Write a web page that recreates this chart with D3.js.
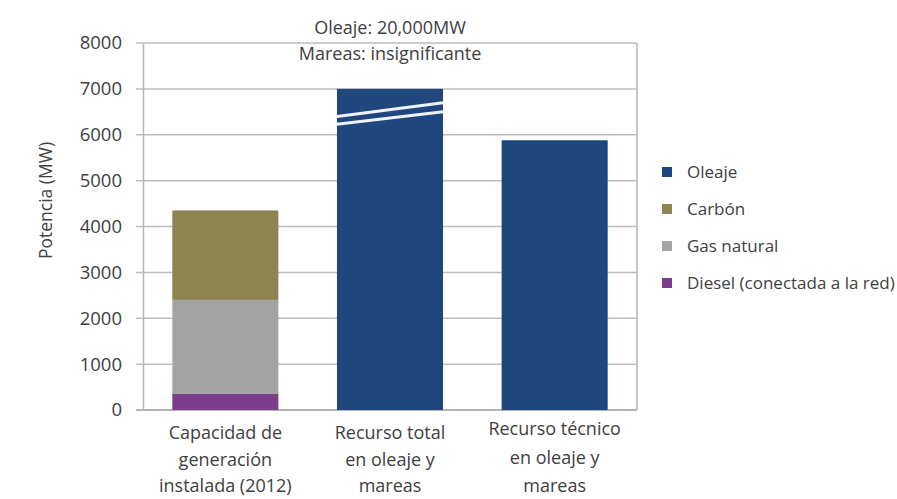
<!DOCTYPE html>
<html>
<head>
<meta charset="utf-8">
<script src="https://cdn.jsdelivr.net/npm/d3@7"></script>
<style>
  html, body { margin: 0; padding: 0; background: #fff; }
  svg { display: block; font-family: "Open Sans", "Liberation Sans", sans-serif; }
</style>
</head>
<body>
<svg id="chart" width="897" height="499"></svg>
<script>
// Categories (x axis), each label split into lines
const categories = [
  ["Capacidad de", "generación", "instalada (2012)"],
  ["Recurso total", "en oleaje y", "mareas"],
  ["Recurso técnico", "en oleaje y", "mareas"]
];

// Series, stacked bottom to top (MW)
const seriesNames = ["Diesel (conectada a la red)", "Gas natural", "Carbón", "Oleaje"];
const diesel  = [350, 0, 0];
const gas     = [2050, 0, 0];
const carbon  = [1950, 0, 0];
const oleaje  = [0, 20000, 5880];

// Legend order (top to bottom)
const legendNames = ["Oleaje", "Carbón", "Gas natural", "Diesel (conectada a la red)"];

// Y axis ticks
const yTicks = [0, 1000, 2000, 3000, 4000, 5000, 6000, 7000, 8000];

// Broken bar: values above this are drawn cut off with a break mark
const breakCap = 7000;
const breakBands = [[6400, 6700], [6230, 6500]]; // [left edge, right edge] of each break stripe

// Annotation over the broken bar
const annotation = ["Oleaje: 20,000MW", "Mareas: insignificante"];

const colors = {
  "Oleaje": "#1f477d",
  "Carbón": "#8d8551",
  "Gas natural": "#a3a3a3",
  "Diesel (conectada a la red)": "#7c3d8c"
};

const textColor = "#404040";

const svg = d3.select("#chart");
const plot = { left: 143, right: 637, top: 43, bottom: 410 };

const x = d3.scaleBand()
  .domain(d3.range(categories.length))
  .range([plot.left, plot.right])
  .paddingInner(0.356)
  .paddingOuter(0.178);

const y = d3.scaleLinear()
  .domain([0, 8000])
  .range([plot.bottom, plot.top]);

// Gridlines
svg.append("g")
  .selectAll("line")
  .data(yTicks)
  .join("line")
  .attr("x1", plot.left - 7)
  .attr("x2", plot.right)
  .attr("y1", d => y(d))
  .attr("y2", d => y(d))
  .attr("stroke", d => d === 0 ? "#9a9a9a" : "#bdbdbd")
  .attr("stroke-width", 1.5);

// Y axis
const yAxis = svg.append("g")
  .attr("transform", `translate(${plot.left},0)`)
  .call(d3.axisLeft(y).tickValues(yTicks).tickFormat(d3.format("d")).tickSize(0).tickPadding(21));
yAxis.select(".domain").attr("stroke", "#b5b5b5").attr("stroke-width", 1.5);
yAxis.selectAll("text")
  .attr("font-size", 18.5)
  .attr("fill", textColor)
  .attr("font-family", "'Open Sans', sans-serif");

// Right frame line
svg.append("line")
  .attr("x1", plot.right).attr("x2", plot.right)
  .attr("y1", plot.top).attr("y2", plot.bottom)
  .attr("stroke", "#b5b5b5").attr("stroke-width", 1.5);

// Stacked bars
const rows = categories.map((c, i) => ({
  i,
  "Diesel (conectada a la red)": diesel[i],
  "Gas natural": gas[i],
  "Carbón": carbon[i],
  "Oleaje": oleaje[i]
}));
const stack = d3.stack().keys(seriesNames)(rows);

svg.append("g")
  .selectAll("g")
  .data(stack)
  .join("g")
  .attr("fill", s => colors[s.key])
  .selectAll("rect")
  .data(s => s.filter(d => d[1] - d[0] > 0))
  .join("rect")
  .attr("x", d => x(d.data.i))
  .attr("width", x.bandwidth())
  .attr("y", d => y(Math.min(d[1], breakCap)))
  .attr("height", d => y(d[0]) - y(Math.min(d[1], breakCap)));

// Break marks on bars that exceed the axis
rows.filter(r => r["Oleaje"] > breakCap).forEach(r => {
  const x0 = x(r.i), x1 = x(r.i) + x.bandwidth();
  breakBands.forEach(b => {
    svg.append("line")
      .attr("x1", x0).attr("x2", x1)
      .attr("y1", y(b[0])).attr("y2", y(b[1]))
      .attr("stroke", "#eef3fb")
      .attr("stroke-width", 3);
  });
});

// Annotation text
svg.append("g")
  .selectAll("text")
  .data(annotation)
  .join("text")
  .attr("x", x(1) + x.bandwidth() / 2)
  .attr("y", (d, i) => 34 + i * 26)
  .attr("text-anchor", "middle")
  .attr("font-size", 18)
  .attr("fill", textColor)
  .text(d => d);

// X category labels (the last one sits a little higher with wider line spacing)
const xl = svg.append("g")
  .selectAll("text")
  .data(categories)
  .join("text")
  .attr("text-anchor", "middle")
  .attr("font-size", 18)
  .attr("fill", textColor)
  .attr("x", (d, i) => x(i) + x.bandwidth() / 2)
  .attr("y", (d, i) => i === 2 ? 435 : 439);
xl.selectAll("tspan")
  .data((d, i) => d.map(t => ({ t, gap: i === 2 ? 28.5 : 26.5 })))
  .join("tspan")
  .attr("x", function() { return this.parentNode.getAttribute("x"); })
  .attr("dy", (d, j) => j === 0 ? 0 : d.gap)
  .text(d => d.t);

// Y axis title
svg.append("text")
  .attr("transform", `translate(52,${(plot.top + plot.bottom) / 2 - 26}) rotate(-90)`)
  .attr("text-anchor", "middle")
  .attr("font-size", 17.5)
  .attr("fill", textColor)
  .text("Potencia (MW)");

// Legend
const legend = svg.append("g")
  .selectAll("g")
  .data(legendNames)
  .join("g")
  .attr("transform", (d, i) => `translate(662,${172 + i * 37})`);
legend.append("rect")
  .attr("x", 0).attr("y", -5)
  .attr("width", 10).attr("height", 10)
  .attr("fill", d => colors[d]);
legend.append("text")
  .attr("x", 25)
  .attr("y", 0)
  .attr("dy", "0.35em")
  .attr("font-size", 17)
  .attr("fill", textColor)
  .text(d => d);
</script>
</body>
</html>
